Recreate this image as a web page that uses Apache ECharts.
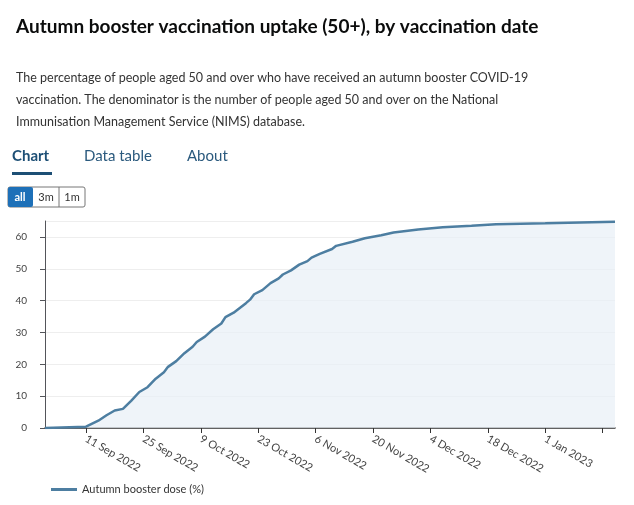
<!DOCTYPE html>
<html>
<head>
<meta charset="utf-8">
<script src="https://cdn.jsdelivr.net/npm/echarts@6/dist/echarts.min.js"></script>
<style>
  html, body { margin: 0; padding: 0; background: #fff; }
  #main { width: 634px; height: 505px; }
</style>
</head>
<body>
<div id="main"></div>
<script>
// data
const dates = ['2022-09-01', '2022-09-11', '2022-09-14', '2022-09-16', '2022-09-18', '2022-09-20',
  '2022-09-22', '2022-09-24', '2022-09-26', '2022-09-28', '2022-09-30', '2022-10-01', '2022-10-03',
  '2022-10-05', '2022-10-07', '2022-10-08', '2022-10-10', '2022-10-12', '2022-10-14', '2022-10-15',
  '2022-10-17', '2022-10-20', '2022-10-21', '2022-10-22', '2022-10-24', '2022-10-26', '2022-10-28',
  '2022-10-29', '2022-10-31', '2022-11-02', '2022-11-04', '2022-11-05', '2022-11-07', '2022-11-10',
  '2022-11-11', '2022-11-15', '2022-11-18', '2022-11-22', '2022-11-25', '2022-12-01', '2022-12-07',
  '2022-12-14', '2022-12-20', '2023-01-01', '2023-01-18']
const uptake = [0, 0.4, 2.3, 4, 5.5, 6, 8.5, 11.3, 12.8, 15.5, 17.5, 19.2, 21, 23.5, 25.5, 27, 28.7,
  31, 32.8, 34.8, 36.2, 39.2, 40.3, 42, 43.3, 45.5, 47, 48.2, 49.5, 51.3, 52.4, 53.5, 54.7, 56.2,
  57.2, 58.5, 59.6, 60.5, 61.4, 62.3, 63, 63.5, 64, 64.3, 64.8]
const tickDates = ['2022-09-11', '2022-09-25', '2022-10-09', '2022-10-23', '2022-11-06', '2022-11-20',
  '2022-12-04', '2022-12-18', '2023-01-01', '2023-01-15']
const months = ['Jan', 'Feb', 'Mar', 'Apr', 'May', 'Jun', 'Jul', 'Aug', 'Sep', 'Oct', 'Nov', 'Dec']

const font = 'Lato, "Noto Sans", sans-serif'
const ts = d => new Date(d + 'T00:00:00Z').getTime()
const tickTimes = tickDates.map(ts)

const myChart = echarts.init(document.getElementById('main'))

var option = {
  backgroundColor: '#fff',
  textStyle: { fontFamily: font },
  title: [
    { text: 'Autumn booster vaccination uptake (50+), by vaccination date', left: 11, top: 12,
      textStyle: { fontSize: 19, fontWeight: 'bold', color: '#0b0c0c', fontFamily: font } },
    { text: 'The percentage of people aged 50 and over who have received an autumn booster COVID-19\nvaccination. The denominator is the number of people aged 50 and over on the National\nImmunisation Management Service (NIMS) database.',
      left: 11, top: 62,
      textStyle: { fontSize: 12.5, fontWeight: 'normal', color: '#333', lineHeight: 22, fontFamily: font } }
  ],
  graphic: [
    { type: 'text', left: 12, top: 149, style: { text: 'Chart', fontSize: 15, fontWeight: 'bold', fill: '#1d4f75', fontFamily: font } },
    { type: 'rect', shape: { x: 12, y: 172, width: 40, height: 3 }, style: { fill: '#1d4f75' } },
    { type: 'text', left: 84, top: 149, style: { text: 'Data table', fontSize: 15, fill: '#2b5a7e', fontFamily: font } },
    { type: 'text', left: 187, top: 149, style: { text: 'About', fontSize: 15, fill: '#2b5a7e', fontFamily: font } },
    { type: 'rect', shape: { x: 8, y: 187, width: 77, height: 20, r: 2 }, style: { fill: '#fff', stroke: '#777', lineWidth: 1 } },
    { type: 'rect', shape: { x: 8, y: 187, width: 25, height: 20, r: 2 }, style: { fill: '#1d70b8' } },
    { type: 'line', shape: { x1: 59, y1: 187, x2: 59, y2: 207 }, style: { stroke: '#777' } },
    { type: 'text', x: 20, y: 197, style: { text: 'all', fontSize: 11, fontWeight: 'bold', fill: '#fff', align: 'center', verticalAlign: 'middle', fontFamily: font } },
    { type: 'text', x: 46, y: 197, style: { text: '3m', fontSize: 11, fill: '#333', align: 'center', verticalAlign: 'middle', fontFamily: font } },
    { type: 'text', x: 72, y: 197, style: { text: '1m', fontSize: 11, fill: '#333', align: 'center', verticalAlign: 'middle', fontFamily: font } }
  ],
  legend: {
    left: 46, top: 479, itemWidth: 26, itemHeight: 3, icon: 'rect',
    textStyle: { fontSize: 11, color: '#333', fontFamily: font }
  },
  grid: { left: 45, right: 19, top: 221, bottom: 77 },
  xAxis: {
    type: 'value',
    min: ts('2022-09-01'),
    max: ts('2023-01-18'),
    axisLine: { lineStyle: { color: '#333', width: 1.5 } },
    axisTick: { show: true, customValues: tickTimes, length: 5, lineStyle: { color: '#333' } },
    axisLabel: {
      customValues: tickTimes.slice(0, 9), rotate: -30, fontSize: 11, color: '#444', margin: 10,
      formatter: v => { const d = new Date(v); return d.getUTCDate() + ' ' + months[d.getUTCMonth()] + ' ' + d.getUTCFullYear() }
    },
    splitLine: { show: false }
  },
  yAxis: {
    type: 'value', min: 0, max: 65, interval: 10,
    axisLabel: { fontSize: 10, color: '#444', showMaxLabel: false, margin: 18 },
    splitLine: { lineStyle: { color: '#eee' } }
  },
  series: [{
    name: 'Autumn booster dose (%)',
    type: 'line',
    data: dates.map((d, i) => [ts(d), uptake[i]]),
    showSymbol: false,
    lineStyle: { color: '#4d7ea1', width: 2.5 },
    itemStyle: { color: '#4d7ea1' },
    areaStyle: { color: '#e8eff7' }
  }]
}

myChart.setOption(option)
</script>
</body>
</html>
